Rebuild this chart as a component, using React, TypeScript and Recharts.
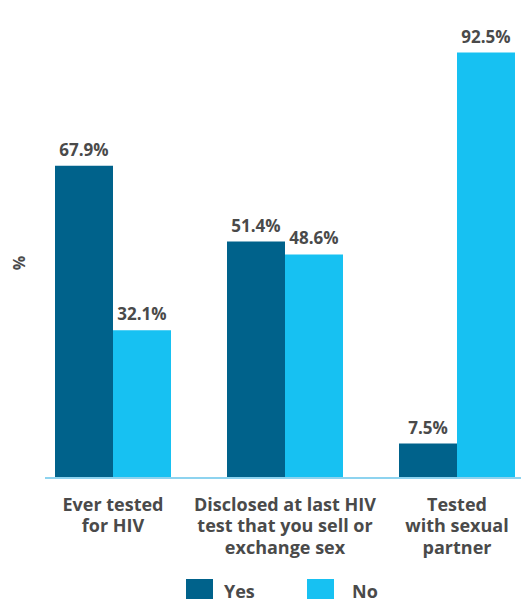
import React from 'react';
import { BarChart, Bar, XAxis, YAxis, LabelList, Legend } from 'recharts';

const categories = [
  ['Ever tested', 'for HIV'],
  ['Disclosed at last HIV', 'test that you sell or', 'exchange sex'],
  ['Tested', 'with sexual', 'partner'],
];
const yesValues = [67.9, 51.4, 7.5];
const noValues = [32.1, 48.6, 92.5];
const seriesNames = ['Yes', 'No'];
const yLabel = '%';

const data = categories.map((c, i) => ({
  name: c.join(' '),
  yes: yesValues[i],
  no: noValues[i],
}));

const YES = '#00628B';
const NO = '#17C1F2';
const TEXT = '#4a4a4a';
const FONT = '"Open Sans", sans-serif';

const Tick = (props: any) => {
  const { x, y, payload, index } = props;
  const lines = categories[index] || [payload.value];
  return (
    <text x={x} y={y} textAnchor="middle" fill={TEXT} fontFamily={FONT} fontWeight={700} fontSize={18}>
      {lines.map((l: string, i: number) => (
        <tspan key={i} x={x} dy={i === 0 ? 24.5 : 21.5}>{l}</tspan>
      ))}
    </text>
  );
};

const renderLegend = () => (
  <div style={{ fontFamily: FONT, fontWeight: 700, fontSize: 18, color: TEXT }}>
    <div style={{ display: 'flex', alignItems: 'flex-start', position: 'absolute', left: 186, top: 0 }}>
      <div style={{ width: 27, height: 22, background: YES }} />
      <span style={{ marginLeft: 11, lineHeight: '20px', marginTop: 2 }}>{seriesNames[0]}</span>
    </div>
    <div style={{ display: 'flex', alignItems: 'flex-start', position: 'absolute', left: 307, top: 0 }}>
      <div style={{ width: 27, height: 22, background: NO }} />
      <span style={{ marginLeft: 18, lineHeight: '20px', marginTop: 2 }}>{seriesNames[1]}</span>
    </div>
  </div>
);

const YLab = (props: any) => {
  const vb = props.viewBox || { x: 0, y: 0, width: 45, height: 460 };
  const x = vb.x + 25;
  const y = vb.y + vb.height / 2 + 15;
  return (
    <text x={x} y={y} transform={`rotate(-90 ${x} ${y})`} textAnchor="middle" fill={TEXT} fontFamily={FONT} fontWeight={700} fontSize={16}>
      {yLabel}
    </text>
  );
};

export default function App() {
  return (
    <div style={{ position: 'absolute', left: 0, top: 0, width: 521, height: 599, overflow: 'hidden', background: '#fff' }}>
      <BarChart
        width={560}
        height={599}
        data={data}
        margin={{ top: 18, right: 0, bottom: 41, left: 0 }}
        barCategoryGap={28}
        barGap={0}
      >
        <YAxis width={45} domain={[0, 100]} axisLine={false} tickLine={false} tick={false} label={<YLab />} />
        <XAxis
          dataKey="name"
          height={80}
          padding={{ left: -18, right: 17 }}
          axisLine={{ stroke: '#8DD3EF', strokeWidth: 2 }}
          tickLine={false}
          tick={<Tick />}
          interval={0}
        />
        <Legend
          layout="horizontal"
          verticalAlign="middle"
          align="center"
          content={renderLegend}
          wrapperStyle={{ top: 579, left: 0, width: 521, height: 22 }}
        />
        <Bar dataKey="yes" name={seriesNames[0]} fill={YES} isAnimationActive={false}>
          <LabelList dataKey="yes" position="top" offset={10} formatter={(v: any) => `${v}%`} fill={TEXT} fontFamily={FONT} fontWeight={700} fontSize={17} />
        </Bar>
        <Bar dataKey="no" name={seriesNames[1]} fill={NO} isAnimationActive={false}>
          <LabelList dataKey="no" position="top" offset={10} formatter={(v: any) => `${v}%`} fill={TEXT} fontFamily={FONT} fontWeight={700} fontSize={17} />
        </Bar>
      </BarChart>
    </div>
  );
}
